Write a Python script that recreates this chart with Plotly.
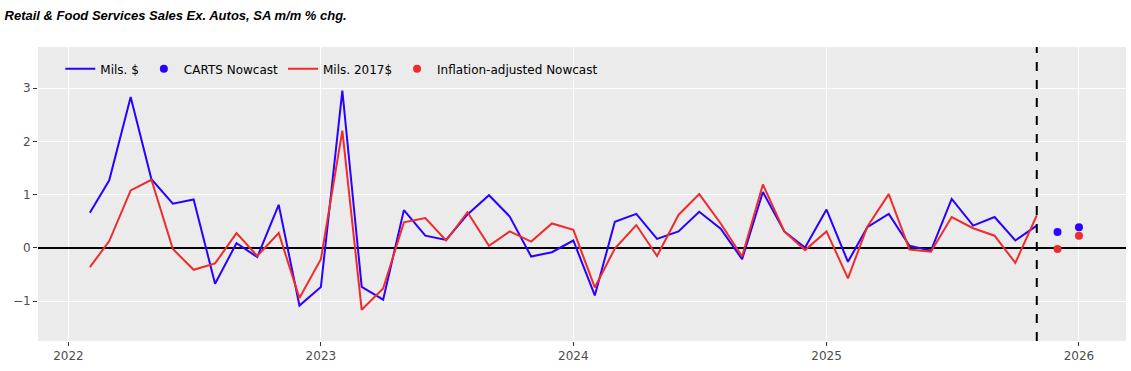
import pandas as pd
import plotly.graph_objects as go

dates = pd.date_range("2022-02-01", "2025-11-01", freq="MS")
nominal = [0.66, 1.27, 2.83, 1.29, 0.83, 0.91, -0.67, 0.09, -0.17, 0.81, -1.08,
           -0.73, 2.95, -0.73, -0.97, 0.71, 0.23, 0.15, 0.63, 0.99, 0.59, -0.16, -0.08,
           0.14, -0.89, 0.49, 0.64, 0.17, 0.31, 0.68, 0.36, -0.21, 1.05, 0.31, 0.01,
           0.72, -0.26, 0.39, 0.64, 0.04, -0.05, 0.92, 0.42, 0.58, 0.14, 0.42]
real = [-0.36, 0.13, 1.08, 1.28, -0.02, -0.41, -0.29, 0.28, -0.15, 0.28, -0.94,
        -0.21, 2.20, -1.16, -0.76, 0.48, 0.56, 0.14, 0.67, 0.04, 0.31, 0.12, 0.46,
        0.34, -0.74, -0.01, 0.43, -0.15, 0.62, 1.01, 0.46, -0.16, 1.19, 0.31, -0.04,
        0.31, -0.57, 0.40, 1.01, -0.03, -0.07, 0.58, 0.37, 0.23, -0.28, 0.61]
nowcast_dates = ["2025-12-01", "2026-01-01"]
carts_nowcast = [0.30, 0.39]
infl_nowcast = [-0.02, 0.23]
last_actual = "2025-11-01"

BLUE = "#2A00FF"
RED = "#EE2C2C"

fig = go.Figure()
fig.add_trace(go.Scatter(x=dates, y=nominal, mode="lines", name="Mils. $",
                         line=dict(color=BLUE, width=2)))
fig.add_trace(go.Scatter(x=nowcast_dates, y=carts_nowcast, mode="markers", name="CARTS Nowcast",
                         marker=dict(color=BLUE, size=8)))
fig.add_trace(go.Scatter(x=dates, y=real, mode="lines", name="Mils. 2017$",
                         line=dict(color=RED, width=2)))
fig.add_trace(go.Scatter(x=nowcast_dates, y=infl_nowcast, mode="markers", name="Inflation-adjusted Nowcast",
                         marker=dict(color=RED, size=8)))

fig.add_shape(type="line", xref="x", yref="paper", x0=last_actual, x1=last_actual, y0=0, y1=1,
              line=dict(color="black", width=2, dash="dash"))

fig.update_layout(
    width=1131, height=371,
    margin=dict(l=38, r=5, t=47, b=30, autoexpand=False),
    paper_bgcolor="white", plot_bgcolor="#EBEBEB",
    font=dict(family="DejaVu Sans", size=12, color="#4D4D4D"),
    title=dict(text="<b><i>Retail & Food Services Sales Ex. Autos, SA m/m % chg.</i></b>",
               x=0.004, xanchor="left", y=0.958, yanchor="middle",
               font=dict(family="Liberation Sans, Arial", size=13, color="black")),
    legend=dict(orientation="h", x=0.0205, y=0.975, xanchor="left", yanchor="top",
                bgcolor="rgba(0,0,0,0)", font=dict(size=12, color="black")),
    showlegend=True,
)
fig.update_xaxes(range=["2021-11-18", "2026-03-10"], showgrid=True, gridcolor="white", gridwidth=1,
                 tickvals=["2022-01-01", "2023-01-01", "2024-01-01", "2025-01-01", "2026-01-01"],
                 ticktext=["2022", "2023", "2024", "2025", "2026"],
                 ticks="outside", ticklen=4, tickcolor="#333333", zeroline=False)
fig.update_yaxes(range=[-1.745, 3.77], showgrid=True, gridcolor="white", gridwidth=1,
                 tickvals=[-1, 0, 1, 2, 3], ticks="outside", ticklen=4, tickcolor="#333333",
                 zeroline=True, zerolinecolor="black", zerolinewidth=2)

fig.write_html("out.html", post_script="document.body.style.margin='0';",
               config={"displayModeBar": False})
